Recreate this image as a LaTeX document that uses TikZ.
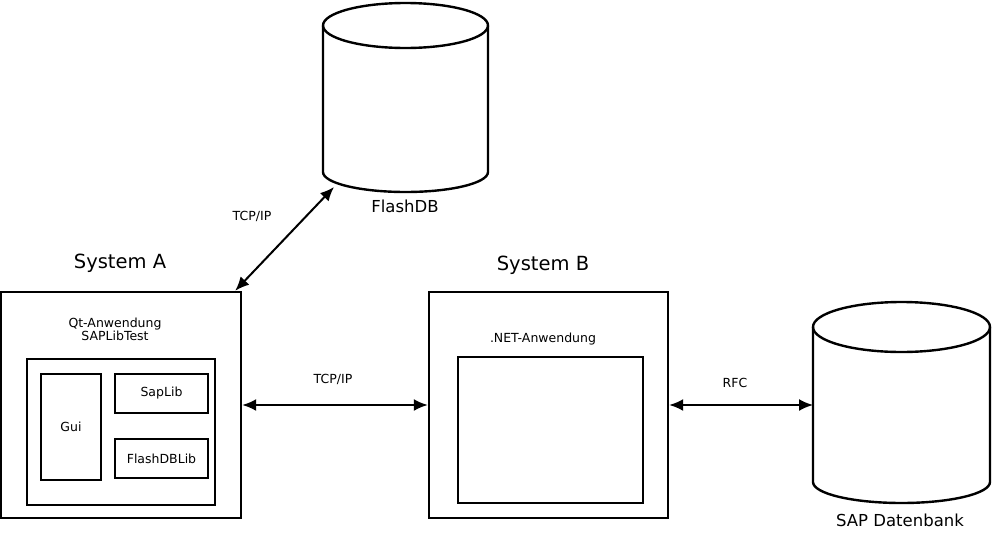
\documentclass[tikz,border=0pt]{standalone}
\usepackage{fontspec}
\setmainfont{DejaVu Sans}
\usetikzlibrary{arrows.meta, positioning}

\begin{document}
\begin{tikzpicture}[x=1pt, y=-1pt, line width=2.4pt,
    box/.style = {draw, rectangle, inner sep=0pt},
    lbl/.style = {font=\fontsize{12.5}{15}\selectfont, align=center},
    title/.style = {font=\fontsize{19.5}{23}\selectfont},
    link/.style = {{Latex[length=14pt,width=12pt]}-{Latex[length=14pt,width=12pt]}, line width=2pt}]
    \useasboundingbox (0,0) rectangle (993,533);

    % System A
    \node[box, minimum width=240pt, minimum height=226pt] (sysA) at (121,405) {};
    \node[title] (titleA) at (120,263) {System A};
    \node[lbl] (qtapp) at (115,329) {Qt-Anwendung\\[-2pt]SAPLibTest};
    \node[box, minimum width=188pt, minimum height=146pt] (appA) at (121,432) {};
    \node[box, lbl, minimum width=60pt, minimum height=106pt] (gui) at (71,427) {Gui};
    \node[box, lbl, minimum width=93pt, minimum height=39pt] (saplib) at (161.5,393.5) {SapLib};
    \node[box, lbl, minimum width=93pt, minimum height=39pt] (flashlib) at (161.5,458.5) {FlashDBLib};

    % System B
    \node[box, minimum width=239pt, minimum height=226pt] (sysB) at (548.5,405) {};
    \node[title] (titleB) at (543,265) {System B};
    \node[lbl] (netapp) at (543,339) {.NET-Anwendung};
    \node[box, minimum width=185pt, minimum height=146pt] (appB) at (550.5,430) {};

    % FlashDB
    \draw (405.5,25.5) ellipse [x radius=82.5pt, y radius=22.5pt];
    \draw (323,25.5) -- (323,172) arc [start angle=180, end angle=360, x radius=82.5pt, y radius=20pt] -- (488,25.5);
    \node[font=\fontsize{16.5}{20}\selectfont] (flashlbl) at (405,206) {FlashDB};
    \coordinate (flashdb) at (334,187);

    % SAP Datenbank
    \draw (901.5,327) ellipse [x radius=88.5pt, y radius=25pt];
    \draw (813,327) -- (813,482) arc [start angle=180, end angle=360, x radius=88.5pt, y radius=21pt] -- (990,327);
    \node[font=\fontsize{16.5}{20}\selectfont] (saplbl) at (900,520) {SAP Datenbank};
    \coordinate (sapdb) at (813,405);

    % connections
    \draw[link] ([xshift=-7pt]sysA.north east) -- (flashdb);
    \node[lbl] (tcp1) at (252,216) {TCP/IP};
    \draw[link] (sysA.east) -- (sysB.west);
    \node[lbl] (tcp2) at (333,379) {TCP/IP};
    \draw[link] (sysB.east) -- (sapdb);
    \node[lbl] (rfc) at (735,383) {RFC};
\end{tikzpicture}
\end{document}
